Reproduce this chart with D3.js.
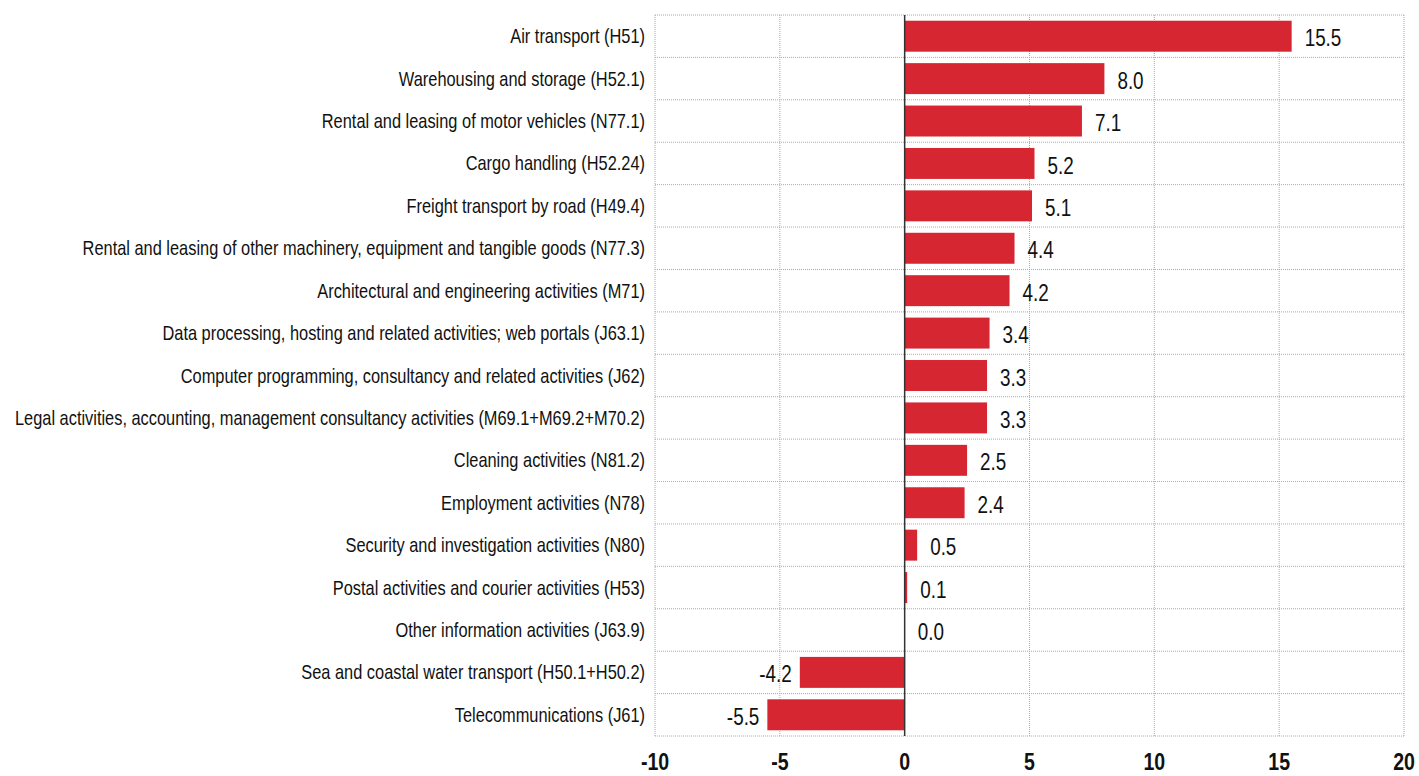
<!DOCTYPE html>
<html>
<head>
<meta charset="utf-8">
<script src="https://cdn.jsdelivr.net/npm/d3@7"></script>
<style>
  body { margin: 0; background: #fff; }
  svg text { font-family: "Liberation Sans", Arial, sans-serif; fill: #111; }
</style>
</head>
<body>
<div id="chart"></div>
<script>
// Chart data
var categories = [
    "Air transport (H51)",
    "Warehousing and storage (H52.1)",
    "Rental and leasing of motor vehicles (N77.1)",
    "Cargo handling (H52.24)",
    "Freight transport by road (H49.4)",
    "Rental and leasing of other machinery, equipment and tangible goods (N77.3)",
    "Architectural and engineering activities (M71)",
    "Data processing, hosting and related activities; web portals (J63.1)",
    "Computer programming, consultancy and related activities (J62)",
    "Legal activities, accounting, management consultancy activities (M69.1+M69.2+M70.2)",
    "Cleaning activities (N81.2)",
    "Employment activities (N78)",
    "Security and investigation activities (N80)",
    "Postal activities and courier activities (H53)",
    "Other information activities (J63.9)",
    "Sea and coastal water transport (H50.1+H50.2)",
    "Telecommunications (J61)"
];
var values = [15.5, 8.0, 7.1, 5.2, 5.1, 4.4, 4.2, 3.4, 3.3, 3.3, 2.5, 2.4, 0.5, 0.1, 0.0, -4.2, -5.5];
var xTicks = [-10, -5, 0, 5, 10, 15, 20];

var svgWidth = 1419;
var svgHeight = 776;

var margin = { top: 15, right: 15, bottom: 40, left: 655 };
var width = svgWidth - margin.left - margin.right;
var height = svgHeight - margin.top - margin.bottom;

// no narrow font installed, so squeeze text horizontally
var narrow = 0.82;

var data = categories.map(function (c, i) { return { name: c, value: values[i] }; });

var svg = d3.select("#chart")
    .append("svg")
    .attr("width", svgWidth)
    .attr("height", svgHeight);

var chartGroup = svg.append("g")
    .attr("transform", `translate(${margin.left}, ${margin.top})`);

// Scales
var xScale = d3.scaleLinear()
    .domain([-10, 20])
    .range([0, width]);

var yScale = d3.scaleBand()
    .domain(categories)
    .range([0, height])
    .paddingInner(0.27)
    .paddingOuter(0.135);

var rowStep = height / categories.length;

// Vertical dotted gridlines
chartGroup.selectAll(".vgrid")
    .data(xTicks.filter(d => d !== 0))
    .enter()
    .append("line")
    .attr("class", "vgrid")
    .attr("x1", d => xScale(d))
    .attr("x2", d => xScale(d))
    .attr("y1", 0)
    .attr("y2", height)
    .attr("stroke", "#aaa")
    .attr("stroke-width", 1)
    .attr("stroke-dasharray", "1,1");

// Horizontal dotted row separators
chartGroup.selectAll(".hgrid")
    .data(d3.range(categories.length + 1))
    .enter()
    .append("line")
    .attr("class", "hgrid")
    .attr("x1", 0)
    .attr("x2", width)
    .attr("y1", d => d * rowStep)
    .attr("y2", d => d * rowStep)
    .attr("stroke", "#aaa")
    .attr("stroke-width", 1)
    .attr("stroke-dasharray", "1,1");

// Bars
chartGroup.selectAll(".bar")
    .data(data)
    .enter()
    .append("rect")
    .attr("class", "bar")
    .attr("x", d => xScale(Math.min(0, d.value)))
    .attr("y", d => yScale(d.name))
    .attr("width", d => Math.abs(xScale(d.value) - xScale(0)))
    .attr("height", yScale.bandwidth())
    .attr("fill", "#d52632");

// Zero line
chartGroup.append("line")
    .attr("x1", xScale(0))
    .attr("x2", xScale(0))
    .attr("y1", 0)
    .attr("y2", height)
    .attr("stroke", "#333")
    .attr("stroke-width", 1.5);

// Value labels
chartGroup.selectAll(".valueText")
    .data(data)
    .enter()
    .append("text")
    .attr("class", "valueText")
    .attr("transform", function (d) {
        var x = d.value < 0 ? xScale(d.value) - 8 : xScale(d.value) + 13;
        var y = yScale(d.name) + yScale.bandwidth() / 2 + 2;
        return `translate(${x}, ${y}) scale(${narrow}, 1)`;
    })
    .attr("dy", ".35em")
    .attr("text-anchor", d => d.value < 0 ? "end" : "start")
    .attr("font-size", "23px")
    .text(d => d.value.toFixed(1));

// Category labels
chartGroup.selectAll(".catText")
    .data(data)
    .enter()
    .append("text")
    .attr("class", "catText")
    .attr("transform", d => `translate(-10, ${yScale(d.name) + yScale.bandwidth() / 2}) scale(${narrow}, 1)`)
    .attr("dy", ".35em")
    .attr("text-anchor", "end")
    .attr("font-size", "20px")
    .text(d => d.name);

// X axis tick labels
chartGroup.selectAll(".xTick")
    .data(xTicks)
    .enter()
    .append("text")
    .attr("class", "xTick")
    .attr("transform", d => `translate(${xScale(d)}, ${height + 34}) scale(0.85, 1)`)
    .attr("text-anchor", "middle")
    .attr("font-size", "23px")
    .attr("font-weight", "bold")
    .text(d => d);
</script>
</body>
</html>
